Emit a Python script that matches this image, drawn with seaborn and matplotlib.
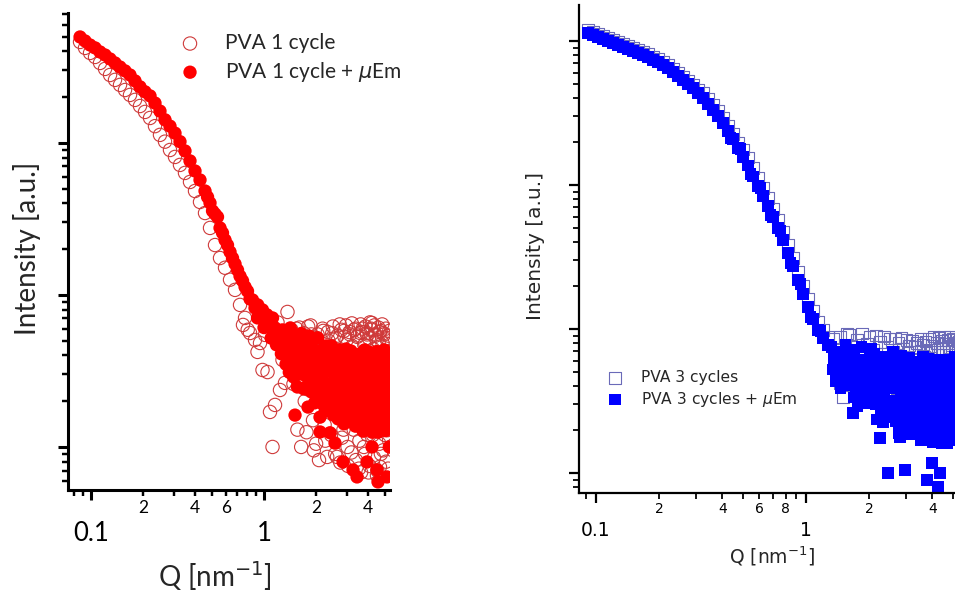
import matplotlib
matplotlib.use("Agg")
import matplotlib.pyplot as plt
import seaborn as sns
from matplotlib.ticker import FixedLocator, FixedFormatter, LogLocator, NullFormatter

# ---------------- data ----------------
# Left panel: PVA 1 cycle (open circles)
q_pva1 = [0.0864, 0.0923, 0.0987, 0.1055, 0.1127, 0.1205, 0.1288, 0.1376, 0.1471, 0.1572,
          0.1680, 0.1796, 0.1919, 0.2051, 0.2193, 0.2343, 0.2504, 0.2677, 0.2861, 0.3058,
          0.3268, 0.3493, 0.3734, 0.3991, 0.4266, 0.4560, 0.4874, 0.5209, 0.5568, 0.5951,
          0.6361, 0.6799, 0.7267, 0.7560, 0.7767, 0.8050, 0.8302, 0.8872, 0.9171, 0.9482,
          0.9802, 1.0134, 1.048, 1.083, 1.120, 1.158, 1.197, 1.237, 1.279, 1.322,
          1.367, 1.413,
          1.44, 1.48, 1.52, 1.56, 1.60, 1.64, 1.68, 1.72, 1.76, 1.80,
          1.84, 1.88, 1.92, 1.96, 2.00, 2.04, 2.08, 2.12, 2.16, 2.20,
          2.24, 2.28, 2.32, 2.36, 2.40, 2.44, 2.48, 2.52, 2.56, 2.60,
          2.64, 2.68, 2.72, 2.76, 2.80, 2.84, 2.88, 2.92, 2.96, 3.00,
          3.04, 3.08, 3.12, 3.16, 3.20, 3.24, 3.28, 3.32, 3.36, 3.40,
          3.44, 3.48, 3.52, 3.56, 3.60, 3.64, 3.68, 3.72, 3.76, 3.80,
          3.84, 3.88, 3.92, 3.96, 4.00, 4.04, 4.08, 4.12, 4.16, 4.20,
          4.24, 4.28, 4.32, 4.36, 4.40, 4.44, 4.48, 4.52, 4.56, 4.60,
          4.64, 4.68, 4.72, 4.76, 4.80, 4.84, 4.88, 4.92, 4.96, 5.00,
          5.04, 5.08, 5.12, 5.16, 5.20, 5.24, 5.28, 5.32,
          1.46, 1.54, 1.62, 1.70, 1.78, 1.86, 1.94, 2.02, 2.10, 2.18,
          2.26, 2.34, 2.42, 2.50, 2.58, 2.66, 2.74, 2.82, 2.90, 2.98,
          3.06, 3.14, 3.22, 3.30, 3.38, 3.46, 3.54, 3.62, 3.70, 3.78,
          3.86, 3.94, 4.02, 4.10, 4.18, 4.26, 4.34, 4.42, 4.50, 4.58,
          4.66, 4.74, 4.82, 4.90, 4.98, 5.06, 5.14, 5.22, 5.30]
i_pva1 = [462, 422, 391, 368, 336, 307, 280, 260, 241, 223,
          207, 192, 175, 160, 146, 129, 113, 102, 89.9, 80.9,
          71.7, 63.5, 55.4, 48.3, 40.9, 34.6, 27.6, 21.3, 17.5, 15.1,
          12.6, 10.8, 8.6, 6.35, 7.06, 5.9, 5.62, 5.06, 4.22, 4.83,
          3.21, 5.46, 3.11, 1.70, 1.0, 1.89, 6.6, 2.37, 3.74, 2.64,
          7.73, 3.62,
          5.9, 2.6, 3.6, 1.3, 6.1, 1.0, 4.4, 2.0, 1.25, 6.2,
          3.0, 5.5, 1.5, 4.8, 1.05, 5.5, 0.82, 4.5, 2.3, 5.8,
          1.4, 3.5, 0.86, 5.0, 2.7, 1.2, 5.6, 3.8, 1.7, 5.2,
          0.86, 2.1, 4.3, 0.79, 5.9, 3.1, 1.3, 5.3, 2.4, 5.06,
          1.0, 3.6, 5.7, 1.9, 0.92, 4.6, 2.8, 5.9, 1.5, 0.82,
          4.0, 5.4, 2.2, 1.1, 5.62, 0.68, 3.2, 6.0, 1.6, 4.7,
          0.9, 2.5, 5.62, 1.2, 3.9, 5.2, 0.75, 2.0, 6.0, 6.54,
          1.4, 4.4, 0.85, 3.0, 5.5, 1.8, 5.06, 0.7, 2.6, 4.9,
          1.05, 0.74, 5.8, 3.4, 1.5, 4.83, 0.95, 2.2, 5.5, 1.2,
          3.9, 0.8, 5.1, 1.29, 2.9, 5.4, 1.11, 3.5,
          4.9, 6.0, 3.3, 5.6, 2.4, 6.3, 0.95, 5.2, 3.9, 6.0,
          1.1, 5.7, 4.6, 6.2, 0.9, 5.4, 6.4, 1.15, 5.8, 6.3,
          0.75, 5.5, 6.5, 1.3, 6.0, 5.3, 0.72, 6.4, 5.7, 1.0,
          6.2, 5.5, 0.68, 6.6, 5.9, 1.2, 6.3, 5.4, 0.65, 6.1,
          5.7, 0.9, 6.4, 5.6, 1.35, 6.0, 5.2, 0.72, 5.8]

# Left panel: PVA 1 cycle + uEm (filled circles)
q_pva1_em = [0.0864, 0.0923, 0.0987, 0.1055, 0.1127, 0.1205, 0.1288, 0.1376, 0.1471, 0.1572,
             0.1680, 0.1796, 0.1919, 0.2051, 0.2193, 0.2343, 0.2504, 0.2677, 0.2861, 0.3058,
             0.3268, 0.3493, 0.3734, 0.3991, 0.4266, 0.4560, 0.4716, 0.4874, 0.5039, 0.5209,
             0.5385, 0.5568, 0.5755, 0.5951, 0.6152, 0.6361, 0.6575, 0.6799, 0.7029, 0.7267,
             0.7512, 0.7767, 0.8028, 0.8302, 0.8581, 0.8872, 0.9171, 0.9482, 0.9802, 1.0134,
             1.048, 1.083, 1.120, 1.158, 1.197, 1.237, 1.279, 1.322, 1.367,
             0.92, 0.96, 1.00, 1.04, 1.10, 1.14, 1.18, 1.22, 1.26, 1.30,
             1.34, 1.38, 1.40,
             1.42, 1.44, 1.46, 1.48, 1.50, 1.52, 1.54, 1.56, 1.58, 1.60,
             1.62, 1.64, 1.66, 1.68, 1.70, 1.72, 1.74, 1.76, 1.78, 1.80,
             1.82, 1.84, 1.86, 1.88, 1.90, 1.92, 1.94, 1.96, 1.98, 2.00,
             2.02, 2.04, 2.06, 2.08, 2.10, 2.12, 2.14, 2.16, 2.18, 2.20,
             2.22, 2.24, 2.26, 2.28, 2.30, 2.32, 2.34, 2.36, 2.38, 2.40,
             2.42, 2.44, 2.46, 2.48, 2.50, 2.52, 2.54, 2.56, 2.58, 2.60,
             2.62, 2.64, 2.66, 2.68, 2.70, 2.72, 2.74, 2.76, 2.78, 2.80,
             2.82, 2.84, 2.86, 2.88, 2.90, 2.92, 2.94, 2.96, 2.98, 3.00,
             3.02, 3.04, 3.06, 3.08, 3.10, 3.12, 3.14, 3.16, 3.18, 3.20,
             3.22, 3.24, 3.26, 3.28, 3.30, 3.32, 3.34, 3.36, 3.38, 3.40,
             3.42, 3.44, 3.46, 3.48, 3.50, 3.52, 3.54, 3.56, 3.58, 3.60,
             3.62, 3.64, 3.66, 3.68, 3.70, 3.72, 3.74, 3.76, 3.78, 3.80,
             3.82, 3.84, 3.86, 3.88, 3.90, 3.92, 3.94, 3.96, 3.98, 4.00,
             4.02, 4.04, 4.06, 4.08, 4.10, 4.12, 4.14, 4.16, 4.18, 4.20,
             4.22, 4.24, 4.26, 4.28, 4.30, 4.32, 4.34, 4.36, 4.38, 4.40,
             4.42, 4.44, 4.46, 4.48, 4.50, 4.52, 4.54, 4.56, 4.58, 4.60,
             4.62, 4.64, 4.66, 4.68, 4.70, 4.72, 4.74, 4.76, 4.78, 4.80,
             4.82, 4.84, 4.86, 4.88, 4.90, 4.92, 4.94, 4.96, 4.98, 5.00,
             5.02, 5.04, 5.06, 5.08, 5.10, 5.12, 5.14, 5.16, 5.18, 5.20,
             5.22, 5.24, 5.26, 5.28, 5.30, 5.32,
             1.511, 1.796, 2.107, 2.11, 2.407, 2.573, 2.862, 3.27, 3.45, 3.94,
             4.21, 4.50, 4.56, 5.14, 5.30]
i_pva1_em = [498, 469, 441, 422, 397, 379, 357, 336, 316, 298,
             280, 256, 234, 217, 204, 183, 162, 142, 129, 116,
             102, 88.6, 76.2, 65.4, 57.1, 48.3, 44.1, 40.3, 35.7, 34.1,
             32.6, 27.6, 25.6, 23.0, 21.3, 19.2, 17.5, 16.0, 14.6, 13.3,
             12.4, 11.3, 10.6, 9.41, 9.27, 8.21, 7.06, 7.61, 7.97, 7.06,
             6.35, 6.54, 7.06, 6.07, 5.46, 5.62, 5.89, 5.21, 4.69,
             8.6, 7.3, 6.1, 7.4, 5.2, 5.8, 4.7, 5.0, 4.1, 4.6,
             3.5, 3.9, 3.1,
             6.07, 3.68, 4.69, 2.89, 5.46, 3.36, 4.28, 2.48, 4.98, 3.02,
             3.91, 5.57, 3.21, 4.03, 2.41, 4.69, 2.94, 3.68, 2.52, 5.14,
             5.37, 3.36, 4.22, 2.30, 4.48, 2.68, 3.46, 1.95, 4.03, 2.41,
             3.12, 5.22, 2.80, 3.62, 2.07, 3.91, 2.27, 2.98, 1.92, 4.41,
             2.68, 3.51, 1.72, 4.62, 2.52, 3.30, 2.04, 4.15, 2.41, 3.16,
             1.80, 2.58, 4.62, 2.30, 3.07, 1.62, 3.68, 2.04, 2.72, 1.72,
             4.09, 2.44, 3.26, 1.53, 3.46, 1.92, 4.35, 4.15, 2.30, 3.07,
             1.70, 3.68, 2.04, 2.72, 1.42, 3.26, 1.80, 2.43, 4.41, 2.17,
             2.89, 1.51, 3.46, 1.92, 2.56, 1.60, 3.91, 2.37, 4.28, 1.86,
             3.21, 1.46, 3.85, 2.10, 2.85, 1.65, 4.03, 2.52, 1.37, 3.41,
             2.23, 3.02, 1.75, 3.62, 1.98, 2.68, 1.55, 2.43, 3.07, 4.09,
             2.13, 2.96, 1.55, 3.57, 1.89, 2.60, 1.27, 3.16, 1.65, 2.28,
             4.35, 2.01, 2.76, 1.36, 3.36, 1.76, 2.44, 1.46, 3.83, 2.23,
             4.22, 1.72, 3.07, 1.33, 3.74, 1.95, 2.70, 1.51, 3.97, 2.37,
             1.25, 3.28, 2.09, 2.89, 1.61, 3.49, 1.83, 2.54, 1.42, 1.96,
             3.73, 1.42, 2.70, 4.24, 2.23, 1.61, 3.07, 1.25, 2.37, 3.49,
             1.83, 2.53, 1.33, 3.97, 2.09, 2.88, 1.51, 3.27, 1.71, 2.96,
             1.55, 4.08, 2.14, 1.36, 3.58, 1.88, 2.60, 4.35, 1.66, 3.14,
             2.28, 1.28, 3.83, 2.01, 2.77, 1.45, 3.36, 1.76, 2.43, 2.28,
             3.83, 1.36, 2.96, 1.76, 3.36, 2.01,
             1.62, 1.83, 1.57, 1.255, 1.24, 1.06, 0.797, 0.706, 0.635, 0.797,
             1.0, 0.706, 0.589, 0.635, 1.0]

# Right panel: PVA 3 cycles (open squares)
q_pva3 = [0.0916, 0.0968, 0.1022, 0.1080, 0.1141, 0.1205, 0.1273, 0.1345, 0.1421, 0.1501,
          0.1585, 0.1674, 0.1769, 0.1868, 0.1974, 0.2085, 0.2203, 0.2327, 0.2458, 0.2597,
          0.2743, 0.2897, 0.3060, 0.3233, 0.3415, 0.3607, 0.3811, 0.4025, 0.4252, 0.4492,
          0.4745, 0.5012, 0.5294, 0.5593, 0.5908, 0.6241, 0.6592, 0.6965, 0.7356, 0.7771,
          0.8209, 0.8672, 0.9160, 0.9676, 1.022, 1.080, 1.141, 1.205, 1.273, 1.345,
          1.452, 1.567, 1.45, 1.50,
          1.60, 1.65, 1.70, 1.75, 1.80, 1.85, 1.90, 1.95, 2.00, 2.05,
          2.10, 2.15, 2.20, 2.25, 2.30, 2.35, 2.40, 2.45, 2.50, 2.55,
          2.60, 2.65, 2.70, 2.75, 2.80, 2.85, 2.90, 2.95, 3.00, 3.05,
          3.10, 3.15, 3.20, 3.25, 3.30, 3.35, 3.40, 3.45, 3.50, 3.55,
          3.60, 3.65, 3.70, 3.75, 3.80, 3.85, 3.90, 3.95, 4.00, 4.05,
          4.10, 4.15, 4.20, 4.25, 4.30, 4.35, 4.40, 4.45, 4.50, 4.55,
          4.60, 4.65, 4.70, 4.75, 4.80, 4.85, 4.90, 4.95, 5.00, 5.05,
          5.10, 5.15, 5.20, 5.25, 5.30, 5.35, 5.40, 5.45, 5.50]
i_pva3 = [1193, 1156, 1119, 1085, 1050, 1016, 985, 953, 924, 895,
          866, 839, 813, 775, 751, 715, 681, 639, 600, 563,
          528, 496, 457, 435, 395, 360, 326, 292, 257, 226,
          196, 177, 155, 131, 112, 95.4, 81.3, 68.2, 57.2, 47.2,
          38.3, 31.2, 24.9, 19.9, 16.1, 13.3, 11.2, 9.85, 8.8, 8.6,
          8.8, 9.3, 4.2, 3.37,
          9.1, 7.6, 5.0, 8.4, 6.3, 9.3, 4.2, 7.9, 8.8, 5.6,
          7.2, 9.0, 3.6, 8.1, 6.7, 8.9, 4.8, 7.5, 8.6, 5.9,
          7.0, 8.6, 3.9, 8.0, 6.5, 8.7, 7.3, 5.2, 8.4, 6.8,
          7.7, 4.5, 8.3, 6.1, 7.5, 8.0, 5.5, 7.0, 8.5, 3.3,
          7.8, 6.4, 8.2, 7.1, 4.9, 8.6, 6.9, 7.6, 5.8, 8.9,
          7.2, 4.1, 8.0, 6.6, 8.7, 7.4, 5.3, 8.3, 7.0, 8.8,
          6.0, 7.9, 4.6, 8.4, 7.3, 8.9, 6.2, 7.7, 8.5, 5.7,
          8.0, 6.9, 8.6, 7.4, 4.4, 8.2, 7.0, 8.8, 6.3]

# Right panel: PVA 3 cycles + uEm (filled squares)
q_pva3_em = [0.0916, 0.0968, 0.1022, 0.1080, 0.1141, 0.1205, 0.1273, 0.1345, 0.1421, 0.1501,
             0.1585, 0.1674, 0.1769, 0.1868, 0.1974, 0.2085, 0.2203, 0.2327, 0.2458, 0.2597,
             0.2743, 0.2897, 0.3060, 0.3233, 0.3415, 0.3607, 0.3811, 0.4025, 0.4252, 0.4369,
             0.4492, 0.4745, 0.4876, 0.5012, 0.5294, 0.5442, 0.5593, 0.5908, 0.6072, 0.6241,
             0.6592, 0.6776, 0.6965, 0.7356, 0.7561, 0.7771, 0.8209, 0.8437, 0.8672, 0.9160,
             0.9415, 0.9676, 1.022, 1.0506, 1.080, 1.141, 1.172, 1.205, 1.273,
             1.32, 1.34, 1.36, 1.38, 1.40, 1.42, 1.44, 1.46, 1.48, 1.50,
             1.52, 1.54, 1.56, 1.58, 1.60, 1.62, 1.64, 1.66, 1.68, 1.70,
             1.72, 1.74, 1.76, 1.78, 1.80, 1.82, 1.84, 1.86, 1.88, 1.90,
             1.92, 1.94, 1.96, 1.98, 2.00, 2.02, 2.04, 2.06, 2.08, 2.10,
             2.12, 2.14, 2.16, 2.18, 2.20, 2.22, 2.24, 2.26, 2.28, 2.30,
             2.32, 2.34, 2.36, 2.38, 2.40, 2.42, 2.44, 2.46, 2.48, 2.50,
             2.52, 2.54, 2.56, 2.58, 2.60, 2.62, 2.64, 2.66, 2.68, 2.70,
             2.72, 2.74, 2.76, 2.78, 2.80, 2.82, 2.84, 2.86, 2.88, 2.90,
             2.92, 2.94, 2.96, 2.98, 3.00, 3.02, 3.04, 3.06, 3.08, 3.10,
             3.12, 3.14, 3.16, 3.18, 3.20, 3.22, 3.24, 3.26, 3.28, 3.30,
             3.32, 3.34, 3.36, 3.38, 3.40, 3.42, 3.44, 3.46, 3.48, 3.50,
             3.52, 3.54, 3.56, 3.58, 3.60, 3.62, 3.64, 3.66, 3.68, 3.70,
             3.72, 3.74, 3.76, 3.78, 3.80, 3.82, 3.84, 3.86, 3.88, 3.90,
             3.92, 3.94, 3.96, 3.98, 4.00, 4.02, 4.04, 4.06, 4.08, 4.10,
             4.12, 4.14, 4.16, 4.18, 4.20, 4.22, 4.24, 4.26, 4.28, 4.30,
             4.32, 4.34, 4.36, 4.38, 4.40, 4.42, 4.44, 4.46, 4.48, 4.50,
             4.52, 4.54, 4.56, 4.58, 4.60, 4.62, 4.64, 4.66, 4.68, 4.70,
             4.72, 4.74, 4.76, 4.78, 4.80, 4.82, 4.84, 4.86, 4.88, 4.90,
             4.92, 4.94, 4.96, 4.98, 5.00, 5.02, 5.04, 5.06, 5.08, 5.10,
             5.12, 5.14, 5.16, 5.18, 5.20,
             1.674, 2.25, 2.80, 2.458, 2.96, 3.77, 4.25, 4.35, 3.98]
i_pva3_em = [1136, 1101, 1066, 1033, 1000, 968, 938, 908, 880, 852,
             825, 799, 774, 738, 715, 681, 649, 609, 571, 536,
             503, 472, 435, 402, 365, 332, 301, 270, 237, 212,
             209, 181, 178, 156, 136, 119, 115, 98.4, 95.3, 83.9,
             71.5, 61.9, 60.0, 50.3, 47.9, 41.5, 33.7, 28.7, 27.4, 21.9,
             20.5, 17.5, 14.2, 12.1, 11.7, 9.84, 9.68, 8.66, 7.74,
             7.47, 5.21, 6.23, 4.35, 6.94, 4.85, 5.81, 3.90, 6.47, 4.51,
             5.40, 7.74, 5.03, 6.01, 4.05, 7.12, 4.30, 5.55, 3.35, 6.45,
             3.90, 5.02, 2.89, 5.83, 3.52, 4.53, 7.49, 4.10, 5.27, 3.04,
             6.12, 3.72, 4.76, 3.18, 6.78, 4.44, 7.33, 3.64, 5.72, 3.77,
             6.75, 2.99, 5.06, 2.36, 6.00, 3.36, 4.49, 2.66, 6.39, 4.00,
             2.24, 5.35, 3.56, 4.76, 2.83, 5.68, 3.16, 4.24, 2.51, 3.86,
             6.15, 2.42, 4.88, 3.06, 6.93, 6.09, 3.18, 4.40, 2.30, 5.34,
             2.80, 3.86, 1.90, 4.69, 2.45, 3.40, 6.49, 2.99, 4.12, 2.02,
             5.02, 2.62, 3.62, 2.15, 5.71, 2.92, 5.57, 2.10, 4.02, 6.34,
             3.32, 2.39, 4.57, 1.86, 3.54, 5.21, 2.73, 3.77, 1.97, 5.92,
             3.11, 4.29, 2.26, 5.96, 2.95, 4.18, 2.07, 5.17, 2.55, 3.66,
             1.68, 4.49, 2.25, 3.17, 6.39, 2.76, 3.91, 1.80, 4.82, 2.38,
             3.40, 1.94, 5.56, 3.08, 6.21, 2.32, 4.36, 1.75, 5.37, 2.67,
             3.79, 2.02, 5.80, 3.31, 1.63, 4.68, 2.88, 4.07, 2.19, 5.03,
             2.48, 3.55, 1.89, 4.05, 2.00, 5.76, 2.86, 1.74, 5.00, 2.47,
             3.52, 6.15, 2.18, 4.34, 3.06, 1.62, 5.36, 2.66, 3.77, 1.87,
             4.65, 2.30, 3.29, 5.67, 2.81, 3.99, 1.97, 4.93, 2.43, 3.47,
             1.61, 4.27, 2.12, 3.01, 6.08, 2.61, 3.74, 1.72, 4.58, 2.28,
             3.24, 1.85, 5.28, 3.17, 5.56, 1.80, 4.18, 2.38, 4.82, 2.76,
             6.39, 2.07, 3.66, 1.68, 5.17,
             2.6, 1.75, 1.78, 1.0, 1.05, 0.894, 0.80, 1.0, 1.17]

legend_left = ["PVA 1 cycle", r"PVA 1 cycle + $\mu$Em"]
legend_right = ["PVA 3 cycles", r"PVA 3 cycles + $\mu$Em"]
x_major_ticks = [0.1, 1]
x_major_labels = ["0.1", "1"]
x_minor_ticks = [0.08, 0.09, 0.2, 0.3, 0.4, 0.5, 0.6, 0.7, 0.8, 0.9, 2, 3, 4, 5]
x_minor_labels_left = ["", "", "2", "", "4", "", "6", "", "", "", "2", "", "4", ""]
x_minor_labels_right = ["", "", "2", "", "4", "", "6", "", "8", "", "2", "", "4", ""]
x_title = r"Q [nm$^{-1}$]"
y_title = "Intensity [a.u.]"

# ---------------- style ----------------
sns.set_style("ticks")
plt.rcParams['font.family'] = ['Lato', 'DejaVu Sans']
plt.rcParams['mathtext.fontset'] = 'dejavusans'
plt.rcParams['axes.edgecolor'] = 'black'
plt.rcParams['xtick.color'] = 'black'
plt.rcParams['ytick.color'] = 'black'

W, H = 955, 599
fig = plt.figure(figsize=(W / 100, H / 100), dpi=100)


def px_axes(l, t, r, b):
    return fig.add_axes([l / W, 1 - b / H, (r - l) / W, (b - t) / H])


axL = px_axes(68, 13, 390, 490)
axR = px_axes(579, 5, 963, 493)

# ---------------- left panel ----------------
sns.scatterplot(x=q_pva1, y=i_pva1, ax=axL, marker='o', s=92,
                facecolor='none', edgecolor='#cf3a3a', linewidth=0.8,
                label=legend_left[0])
sns.scatterplot(x=q_pva1_em, y=i_pva1_em, ax=axL, marker='o', s=92,
                color='#ff0000', edgecolor='none', linewidth=0,
                label=legend_left[1])

# ---------------- right panel ----------------
sns.scatterplot(x=q_pva3, y=i_pva3, ax=axR, marker='s', s=68,
                facecolor='none', edgecolor='#6a6ab8', linewidth=0.8,
                label=legend_right[0])
sns.scatterplot(x=q_pva3_em, y=i_pva3_em, ax=axR, marker='s', s=68,
                color='#0000ff', edgecolor='none', linewidth=0,
                label=legend_right[1])


def style_axis(ax, xlim, ylim, minor_labels, lw, maj_len, min_len,
               maj_size, min_size, maj_pad, min_pad):
    ax.set_xscale('log')
    ax.set_yscale('log')
    ax.set_xlim(*xlim)
    ax.set_ylim(*ylim)
    sns.despine(ax=ax)
    for sp in ['left', 'bottom']:
        ax.spines[sp].set_linewidth(lw)
        ax.spines[sp].set_color('black')
    ax.xaxis.set_major_locator(FixedLocator(x_major_ticks))
    ax.xaxis.set_major_formatter(FixedFormatter(x_major_labels))
    ax.xaxis.set_minor_locator(FixedLocator(x_minor_ticks))
    ax.xaxis.set_minor_formatter(FixedFormatter(minor_labels))
    ax.yaxis.set_major_locator(LogLocator(base=10, numticks=12))
    ax.yaxis.set_minor_locator(LogLocator(base=10, subs=range(2, 10), numticks=12))
    ax.yaxis.set_major_formatter(NullFormatter())
    ax.yaxis.set_minor_formatter(NullFormatter())
    ax.tick_params(axis='both', which='major', direction='out', length=maj_len,
                   width=lw, color='black')
    ax.tick_params(axis='both', which='minor', direction='out', length=min_len,
                   width=lw * 0.8, color='black')
    ax.tick_params(axis='x', which='major', labelsize=maj_size, pad=maj_pad)
    ax.tick_params(axis='x', which='minor', labelsize=min_size, pad=min_pad)
    ax.grid(False)


style_axis(axL, (0.0736, 5.35), (0.521, 716), x_minor_labels_left,
           2.2, 7.5, 4.0, 18.5, 12.5, 15, 3)
style_axis(axR, (0.0830, 5.59), (0.726, 1778), x_minor_labels_right,
           1.6, 7.0, 4.0, 13.5, 10, 13, 2.5)

for t in axR.get_xticklabels(which='both'):
    t.set_fontfamily(['DejaVu Sans'])

# axis titles
axL.set_ylabel(y_title, fontsize=20, va='center')
axL.yaxis.set_label_coords((27 - 68) / 322, (490 - 248) / 477)
axL.set_xlabel(x_title, fontsize=20, va='baseline')
axL.xaxis.set_label_coords((214.5 - 68) / 322, (490 - 587) / 477)

axR.set_ylabel(y_title, fontsize=14.5, va='center', family=['DejaVu Sans'])
axR.yaxis.set_label_coords((535 - 579) / 384, (493 - 246) / 488)
axR.set_xlabel(x_title, fontsize=13.5, va='baseline', family=['DejaVu Sans'])
axR.xaxis.set_label_coords((772.5 - 579) / 384, (493 - 563) / 488)

# legends
legL = axL.legend(loc='upper left', bbox_to_anchor=(179.6 / W, 1 - 33 / H),
                  bbox_transform=fig.transFigure, frameon=False,
                  borderpad=0, borderaxespad=0, handlelength=1.0,
                  handletextpad=1.18, labelspacing=0.32, fontsize=15)
legR = axR.legend(loc='upper left', bbox_to_anchor=(607.2 / W, 1 - 370 / H),
                  bbox_transform=fig.transFigure, frameon=False,
                  borderpad=0, borderaxespad=0, handlelength=1.0,
                  handletextpad=1.17, labelspacing=0.3,
                  prop={'family': ['DejaVu Sans'], 'size': 11.2})

fig.savefig("out.png", dpi=100)
